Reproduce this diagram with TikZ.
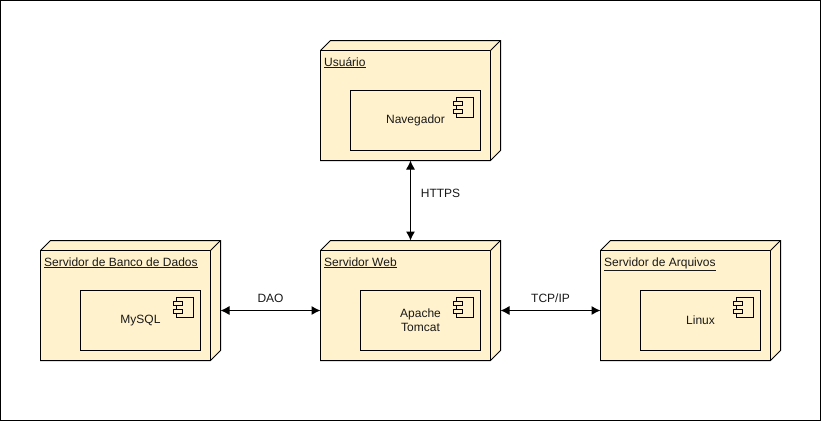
\documentclass[tikz,border=0pt]{standalone}
\usepackage{fontspec}
\setmainfont{Liberation Sans}
\usetikzlibrary{arrows.meta}
\definecolor{nodefill}{HTML}{FFF2CC}
\tikzset{
  x=1pt,y=-1pt,
  every node/.style={font=\fontsize{12}{14}\selectfont,text=black!90},
  face/.style={draw=black,fill=nodefill,line width=1pt,line join=miter},
  hull/.style={rectangle,inner sep=0pt,outer sep=0pt,minimum width=180pt,minimum height=120pt},
  comp/.style={rectangle,draw=black,fill=nodefill,line width=1pt,align=center,inner sep=0pt,outer sep=0pt,minimum height=60pt},
  nlabel/.style={anchor=base west,inner sep=0pt},
  elabel/.style={inner sep=0pt},
  link/.style={draw=black,line width=1pt,{Latex[length=9pt,width=9pt]}-{Latex[length=9pt,width=9pt]}}
}
% #1 name, #2 left x, #3 top y, #4 title, #5 component text, #6 component left x, #7 component width
\newcommand{\deploynode}[7]{%
  \node[hull,anchor=north west] (#1) at (#2,#3) {};
  \begin{scope}[shift={(#2,#3)}]
    \draw[face] (0,10) -- (10,0) -- (180,0) -- (180,110) -- (170,120) -- (0,120) -- cycle;
    \draw[face] (0,10) rectangle (170,120);
    \draw[face] (170,10) -- (180,0);
    \node[nlabel] (#1title) at (3.5,25.5) {\underline{#4}};
    \node[comp,anchor=north west,minimum width=#7pt] (#1comp) at (#6,50) {#5};
    \coordinate (#1ic) at (#6+#7-27.5,57);
    \coordinate (#1left) at (0,70);
    \coordinate (#1right) at (180,70);
  \end{scope}
  \begin{scope}[shift={(#1ic)}]
    \draw[draw=black,line width=1pt,fill=nodefill] (3,0) rectangle (20,20);
    \draw[draw=black,line width=1pt,fill=nodefill] (0,4) rectangle (9,8);
    \draw[draw=black,line width=1pt,fill=nodefill] (0,12) rectangle (9,16);
  \end{scope}
}
\begin{document}
\begin{tikzpicture}
  \useasboundingbox (0,0) rectangle (821,421);
  \fill[white] (0,0) rectangle (821,421);
  \node[rectangle,draw=black,line width=1pt,inner sep=0pt,outer sep=0pt,minimum width=820pt,minimum height=420pt,anchor=north west] (frame) at (0.5,0.5) {};

  \deploynode{usuario}{320.5}{40.5}{Usuário}{Navegador}{30}{130}
  \deploynode{banco}{40.5}{240.5}{Servidor de Banco de Dados}{MySQL}{40}{120}
  \deploynode{web}{320.5}{240.5}{Servidor Web}{Apache\\Tomcat}{40}{120}
  \deploynode{arq}{600.5}{240.5}{Servidor de Arquivos}{Linux}{40}{120}

  \draw[link] (usuario.south) -- (web.north) node[midway,xshift=30pt,yshift=7pt,elabel] {HTTPS};
  \draw[link] (bancoright) -- (webleft) node[midway,above=7pt,elabel] {DAO};
  \draw[link] (webright) -- (arqleft) node[midway,above=7pt,elabel] {TCP/IP};
\end{tikzpicture}
\end{document}
